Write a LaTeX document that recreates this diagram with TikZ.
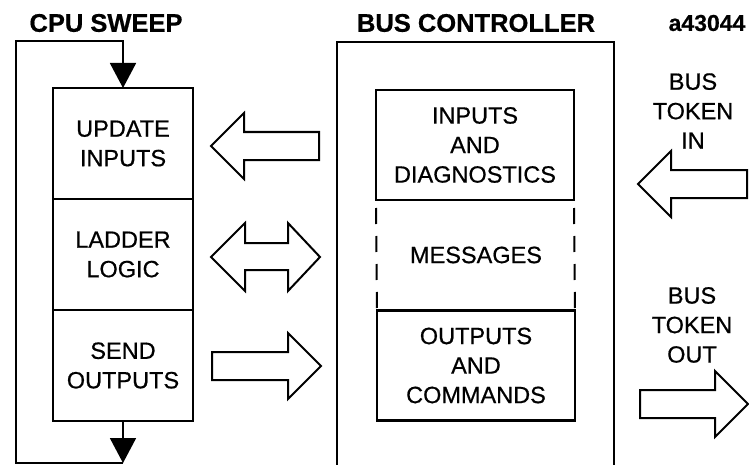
\documentclass[tikz,border=0pt]{standalone}
\usepackage{fontspec}
\setmainfont[FakeBold=0.6]{Liberation Sans}
\usetikzlibrary{positioning,arrows.meta}

\begin{document}
\begin{tikzpicture}[x=0.5pt, y=-0.5pt, font=\fontsize{11.75}{14.75}\selectfont,
  stage/.style={draw, line width=1.2pt, minimum width=70pt, minimum height=55.5pt,
    align=center, inner sep=0pt, outer sep=0pt},
  buffer/.style={draw, line width=1.2pt, minimum width=99pt, minimum height=55pt,
    align=center, inner sep=0pt, outer sep=0pt},
  heading/.style={font=\fontsize{12.75}{15}\selectfont\bfseries},
  fat/.style={draw, line width=1pt, line join=miter},
  flow/.style={line width=0.9pt, -{Triangle[length=12.5pt, width=13pt]}},
  gapline/.style={line width=1pt, dash pattern=on 8pt off 6pt, dash phase=10pt}]

\useasboundingbox (0,0) rectangle (749,465);

% Titles
\node[heading] (cputitle) at (106,23) {CPU SWEEP};
\node[heading] (bctitle) at (476,23) {BUS CONTROLLER};
\node[font=\fontsize{11.5}{14}\selectfont\bfseries] (figno) at (707,23) {a43044};

% CPU sweep stages
\node[stage] (update) at (123,143.5) {UPDATE\\INPUTS};
\node[stage, below=0pt of update] (ladder) {LADDER\\LOGIC};
\node[stage, below=0pt of ladder] (send) {SEND\\OUTPUTS};

% Sweep loop
\coordinate (loopbl) at (16,463);
\coordinate (looptl) at (16,41);
\draw[flow] (send.south) -- (send.south |- loopbl);
\draw[flow] (send.south |- loopbl) -- (loopbl) -- (looptl) -| (update.north);

% Bus controller
\draw[line width=1.2pt] (337,466) |- (614,42) -- (614,466);
\node[buffer] (inputs) at (475,145) {INPUTS\\AND\\DIAGNOSTICS};
\node[buffer] (outputs) at (476,365.5) {OUTPUTS\\AND\\COMMANDS};
\node (messages) at (476,255) {MESSAGES};
\draw[gapline] (inputs.south west) -- (outputs.north west);
\draw[gapline] (inputs.south east) -- (outputs.north east);

% Bus token labels
\node[align=center] (tokenin) at (693,111) {BUS\\TOKEN\\IN};
\node[align=center] (tokenout) at (692,325) {BUS\\TOKEN\\OUT};

% Block arrows (tip x/y, direction, length)
\foreach \x/\y/\s/\len in {211/146/-1/108, 321/366/1/109, 638/184/-1/109, 748/404/1/108} {
  \begin{scope}[shift={(\x,\y)}, xscale=\s]
    \draw[fat] (0,0) -- (-33,-33) -- (-33,-14) -- (-\len,-14)
      -- (-\len,14) -- (-33,14) -- (-33,33) -- cycle;
  \end{scope}
}

% Two-way arrow
\draw[fat] (211,257) -- (245,223) -- (245,243) -- (288,243) -- (288,223)
  -- (320,257) -- (288,291) -- (288,270) -- (245,270) -- (245,291) -- cycle;

\end{tikzpicture}
\end{document}
